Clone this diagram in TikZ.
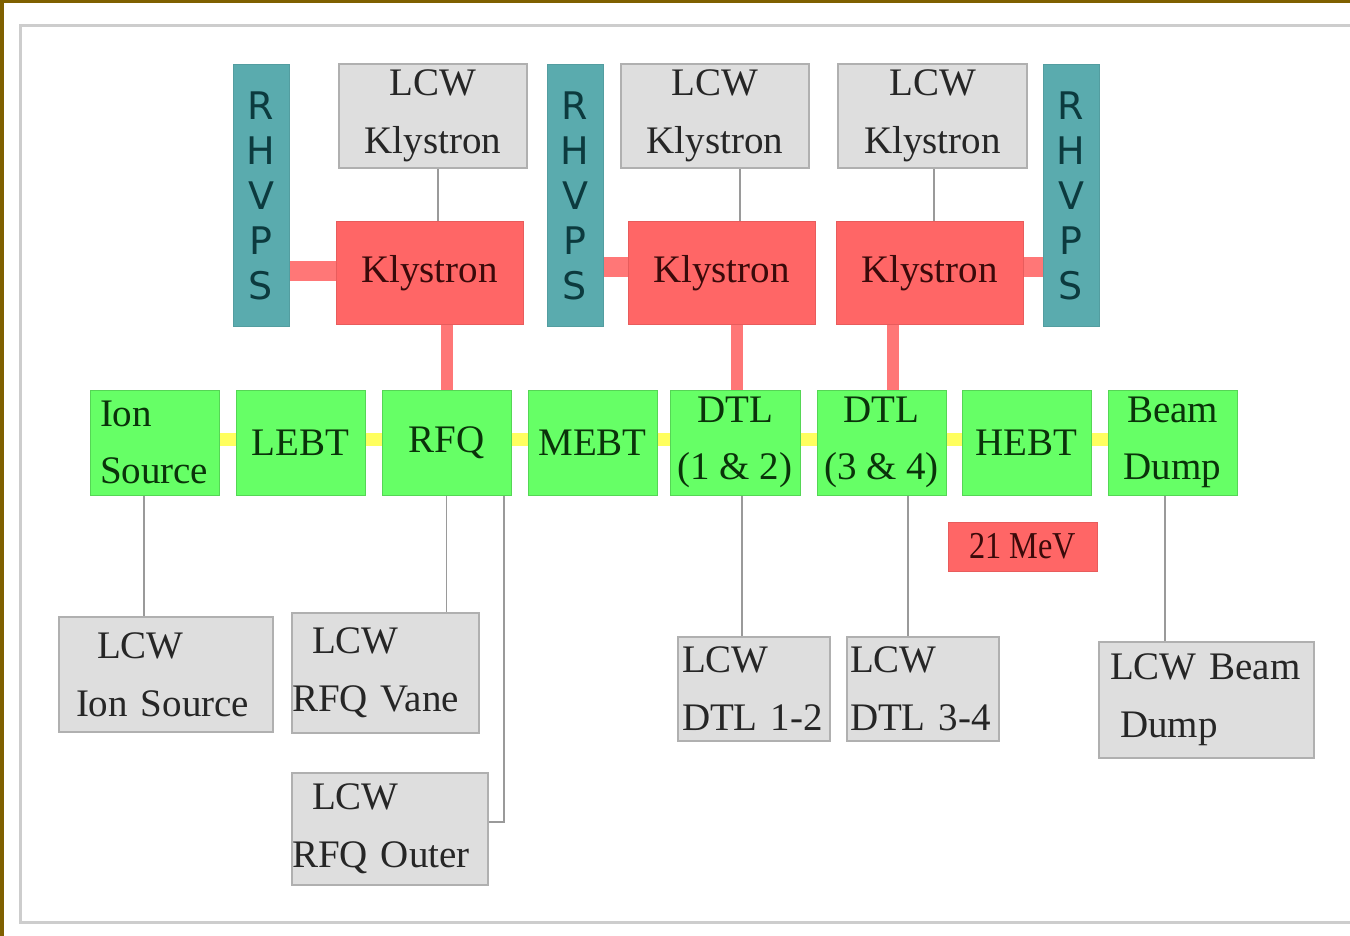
\documentclass[tikz,border=0pt]{standalone}
\usepackage{fontspec}
\usepackage{xcolor}
\usepackage{tikz}
\usetikzlibrary{calc}
\newfontfamily\serifbox{Liberation Serif}
\newfontfamily\serifnarrow[FakeStretch=0.85]{Liberation Serif}
\newfontfamily\sansbox{DejaVu Sans}
\newcommand\lcwfont{\serifbox\fontsize{39}{58}\selectfont\spaceskip=7pt plus 2pt minus 1pt\relax}
\definecolor{frameBrown}{HTML}{7F6000}
\definecolor{frameGray}{HTML}{CDCDCD}
\definecolor{hvpsTeal}{HTML}{5AABAE}
\definecolor{hvpsText}{HTML}{0C3A3E}
\definecolor{klyRed}{HTML}{FF6666}
\definecolor{klyEdge}{HTML}{E85C5C}
\definecolor{klyText}{HTML}{3A0A0A}
\definecolor{rfPink}{HTML}{FF7777}
\definecolor{beamGreen}{HTML}{66FF66}
\definecolor{beamEdge}{HTML}{55D655}
\definecolor{linacText}{HTML}{0A330A}
\definecolor{beamYellow}{HTML}{FFFF5E}
\definecolor{lcwFill}{HTML}{DEDEDE}
\definecolor{lcwEdge}{HTML}{B0B0B0}
\definecolor{lcwText}{HTML}{262626}
\definecolor{lcwLine}{HTML}{9A9A9A}

\begin{document}
\begin{tikzpicture}[x=1pt,y=-1pt,
  lcw/.style={draw=lcwEdge, fill=lcwFill, line width=1.5pt, inner sep=0pt, text=lcwText,
    font=\lcwfont, align=center},
  kly/.style={draw=klyEdge, fill=klyRed, line width=1pt, inner sep=0pt, text=klyText,
    font=\serifbox\fontsize{39}{57}\selectfont, minimum width=187pt, minimum height=102pt},
  hvps/.style={draw=hvpsTeal!92!black, fill=hvpsTeal, line width=1pt, inner sep=0pt, text=hvpsText,
    font=\sansbox\fontsize{38}{45}\selectfont, align=center, minimum width=56pt, minimum height=261pt},
  linac/.style={draw=beamEdge, fill=beamGreen, line width=1pt, inner sep=0pt, text=linacText,
    font=\serifbox\fontsize{39}{57}\selectfont, align=center, minimum width=129pt, minimum height=105pt},
  rfguide/.style={draw=rfPink, line width=20pt},
  rffeed/.style={draw=rfPink, line width=12pt},
  beampipe/.style={draw=beamYellow, line width=13pt},
  waterline/.style={draw=lcwLine, line width=1.5pt}
]
  % page: white sheet, brown edge, grey frame (1 unit = 1 px of the slide)
  \fill[white] (0,0) rectangle (1350,936);
  \useasboundingbox (0,0) rectangle (1350,936);
  \fill[frameBrown] (0,0) rectangle (4,936);
  \fill[frameBrown] (0,0) rectangle (1350,3);
  \draw[frameGray, line width=3pt] (20,26) rectangle (1372,922);

  % row heights
  \def\lcwY{116}
  \def\klyY{273}
  \def\hvY{195.5}
  \def\rowY{442.5}

  % klystron cooling boxes
  \node[lcw, minimum width=188pt, minimum height=104pt] (lcwKa) at (433,\lcwY) {LCW\\Klystron};
  \node[lcw, minimum width=188pt, minimum height=104pt] (lcwKb) at (715,\lcwY) {LCW\\Klystron};
  \node[lcw, minimum width=189pt, minimum height=104pt] (lcwKc) at (932.5,\lcwY) {LCW\\Klystron};

  % klystrons
  \node[kly] (klyA) at (429.5,\klyY) {Klystron};
  \node[kly] (klyB) at (721.5,\klyY) {Klystron};
  \node[kly] (klyC) at (929.5,\klyY) {Klystron};

  % high voltage power supplies
  \node[hvps] (hvA) at (261,\hvY) {R\\H\\V\\P\\S};
  \node[hvps] (hvB) at (575,\hvY) {R\\H\\V\\P\\S};
  \node[hvps] (hvC) at (1071,\hvY) {R\\H\\V\\P\\S};

  % beam line
  \node[linac, text width=109pt, inner xsep=10pt, align=left] (ionsrc) at (154.5,\rowY) {Ion\\Source};
  \node[linac] (lebt) at (300.5,\rowY) {LEBT};
  \node[linac] (rfq) at (446.5,\rowY) {RFQ};
  \node[linac] (mebt) at (592.5,\rowY) {MEBT};
  \node[linac, minimum width=130pt] (dtlA) at (735,\rowY) {DTL\\(1 \& 2)};
  \node[linac] (dtlB) at (881.5,\rowY) {DTL\\(3 \& 4)};
  \node[linac] (hebt) at (1026.5,\rowY) {HEBT};
  \node[linac] (bdump) at (1172.5,\rowY) {Beam\\Dump};

  \node[kly, minimum width=149pt, minimum height=49pt,
    font=\serifnarrow\fontsize{38}{40}\selectfont] (mev) at (1022.5,546.5) {21 MeV};

  % low conductivity water boxes below
  \node[lcw, text width=180pt, inner xsep=17pt, minimum height=115pt, align=left] (lcwIon) at (166,674.5) {\hspace*{21pt}LCW\\Ion Source};
  \node[lcw, text width=187pt, minimum height=120pt, align=left] (lcwVane) at (385.5,673) {\hspace*{20pt}LCW\\RFQ Vane};
  \node[lcw, text width=196pt, minimum height=112pt, align=left] (lcwOuter) at (390,829) {\hspace*{20pt}LCW\\RFQ Outer};
  \node[lcw, text width=144pt, inner xsep=4pt, minimum height=104pt, align=left] (lcwDtlA) at (754,689) {LCW\\DTL 1-2};
  \node[lcw, text width=146pt, inner xsep=3pt, minimum height=104pt, align=left] (lcwDtlB) at (923,689) {LCW\\DTL 3-4};
  \node[lcw, text width=193pt, inner xsep=11pt, minimum height=116pt, align=left] (lcwDump) at (1206.5,700) {LCW Beam\\\hspace*{10pt}Dump};

  % beam pipe between sections
  \foreach \a/\b in {ionsrc/lebt, lebt/rfq, rfq/mebt, mebt/dtlA, dtlA/dtlB, dtlB/hebt, hebt/bdump}
    \draw[beampipe] ([yshift=3pt]\a.east) -- ([yshift=3pt]\b.west);

  % HV to klystrons
  \draw[rfguide] ([yshift=2pt]klyA.west) -- ([yshift=2pt]klyA.west -| hvA.east);
  \draw[rfguide] ([yshift=6pt]klyB.west) -- ([yshift=6pt]klyB.west -| hvB.east);
  \draw[rfguide] ([yshift=6pt]klyC.east) -- ([yshift=6pt]klyC.east -| hvC.west);

  % rf feeds
  \draw[rffeed] (rfq.north) -- (rfq.north |- klyA.south);
  \draw[rffeed] ([xshift=2pt]dtlA.north) -- ([xshift=2pt]dtlA.north |- klyB.south);
  \draw[rffeed] ([xshift=11.5pt]dtlB.north) -- ([xshift=11.5pt]dtlB.north |- klyC.south);

  % water lines
  \draw[waterline] ([xshift=5pt]lcwKa.south) -- ([xshift=5pt]lcwKa.south |- klyA.north);
  \draw[waterline] ([xshift=25pt]lcwKb.south) -- ([xshift=25pt]lcwKb.south |- klyB.north);
  \draw[waterline] ([xshift=1.5pt]lcwKc.south) -- ([xshift=1.5pt]lcwKc.south |- klyC.north);
  \draw[waterline] ([xshift=-10.5pt]ionsrc.south) -- ([xshift=-10.5pt]ionsrc.south |- lcwIon.north);
  \draw[waterline] (rfq.south) -- (rfq.south |- lcwVane.north);
  \draw[waterline] ([xshift=57.5pt]rfq.south) |- ([yshift=7pt]lcwOuter.east);
  \draw[waterline] ([xshift=7pt]dtlA.south) -- ([xshift=7pt]dtlA.south |- lcwDtlA.north);
  \draw[waterline] ([xshift=26.5pt]dtlB.south) -- ([xshift=26.5pt]dtlB.south |- lcwDtlB.north);
  \draw[waterline] ([xshift=-7.5pt]bdump.south) -- ([xshift=-7.5pt]bdump.south |- lcwDump.north);
\end{tikzpicture}
\end{document}
